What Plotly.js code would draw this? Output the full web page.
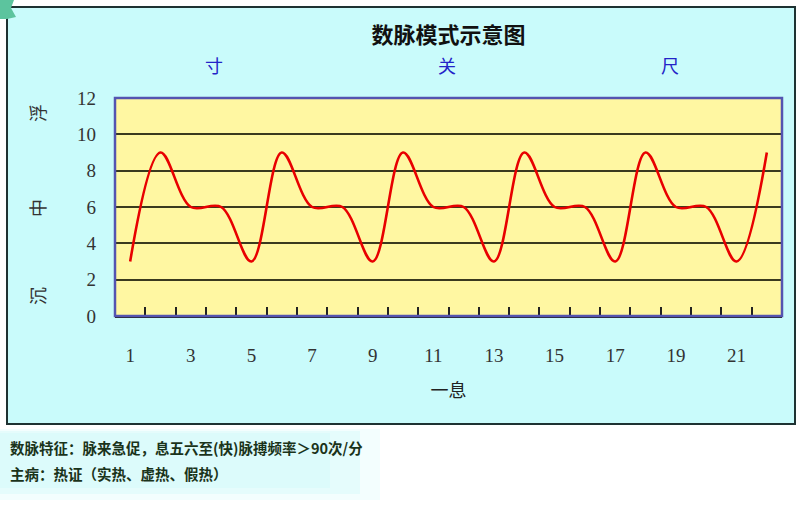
<!DOCTYPE html>
<html>
<head>
<meta charset="utf-8">
<script src="https://cdn.plot.ly/plotly-3.0.1.min.js"></script>
<style>html,body{margin:0;padding:0;background:#fff;}#chart{width:798px;height:529px;}</style>
</head>
<body>
<div id="chart"></div>
<script>
// ---- data ----
const pulseIndex = [1,2,3,4,5,6,7,8,9,10,11,12,13,14,15,16,17,18,19,20,21,22];
const pulseValues = [3,9,6,6,3,9,6,6,3,9,6,6,3,9,6,6,3,9,6,6,3,9];
const xTickLabels = ['1','3','5','7','9','11','13','15','17','19','21'];
const yTickValues = [0,2,4,6,8,10,12];
const chartTitle = '数脉模式示意图';
const positionLabels = ['寸','关','尺'];
const depthLabels = ['浮','中','沉'];
const xAxisTitle = '一息';
const noteLines = ['数脉特征：脉来急促，息五六至(快)脉搏频率＞90次/分', '主病：热证（实热、虚热、假热）'];

// ---- layout helpers (pixel -> paper) ----
const W = 798, H = 529;
const PL = 115, PR = 782, PT = 98, PB = 316;
const px = x => (x - PL) / (PR - PL);
const py = y => (PB - y) / (PB - PT);

const serif = 'Liberation Serif, Times New Roman, serif';
const cjk = 'Noto Sans CJK SC, sans-serif';

const trace = {
  x: pulseIndex, y: pulseValues, type: 'scatter', mode: 'lines',
  line: {color: '#e80000', width: 2.6, shape: 'spline', smoothing: 1},
  hoverinfo: 'x+y', showlegend: false
};

const oddTicks = pulseIndex.filter(v => xTickLabels.includes(String(v)));

const annotations = [];
const posX = [214, 447, 670];
positionLabels.forEach((t, i) => annotations.push({
  text: t, xref: 'paper', yref: 'paper', x: px(posX[i]), y: py(65),
  showarrow: false, font: {family: cjk, size: 18, color: '#2323c8'}, xanchor: 'center', yanchor: 'middle'
}));
const depY = [113, 208, 296];
depthLabels.forEach((t, i) => annotations.push({
  text: t, xref: 'paper', yref: 'paper', x: px(37), y: py(depY[i]), textangle: -90,
  showarrow: false, font: {family: cjk, size: 18, color: '#333'}, xanchor: 'center', yanchor: 'middle'
}));
const noteY = [447, 473];
noteLines.forEach((t, i) => annotations.push({
  text: '<b>' + t + '</b>', xref: 'paper', yref: 'paper', x: px(8), y: py(noteY[i]),
  showarrow: false, font: {family: cjk, size: 14.5, color: '#1a331a'}, xanchor: 'left', yanchor: 'middle'
}));

const shapes = [
  // outer cyan panel
  {type: 'rect', xref: 'paper', yref: 'paper', x0: px(7), x1: px(795), y0: py(424), y1: py(7),
   fillcolor: '#c9fbfb', line: {color: '#1e3232', width: 2}, layer: 'below'},
  // plot area fill
  {type: 'rect', xref: 'paper', yref: 'paper', x0: 0, x1: 1, y0: 0, y1: 1,
   fillcolor: '#fff7a2', line: {width: 0}, layer: 'below'},
  // soft glow behind notes
  {type: 'rect', xref: 'paper', yref: 'paper', x0: px(0), x1: px(380), y0: py(500), y1: py(429),
   fillcolor: 'rgba(200,250,250,0.22)', line: {width: 0}, layer: 'below'},
  {type: 'rect', xref: 'paper', yref: 'paper', x0: px(0), x1: px(360), y0: py(494), y1: py(431),
   fillcolor: 'rgba(200,250,250,0.3)', line: {width: 0}, layer: 'below'},
  {type: 'rect', xref: 'paper', yref: 'paper', x0: px(0), x1: px(330), y0: py(488), y1: py(433),
   fillcolor: 'rgba(200,250,250,0.3)', line: {width: 0}, layer: 'below'},
  // green corner tag
  {type: 'path', xref: 'paper', yref: 'paper', layer: 'above',
   path: `M${px(0)},${py(0)} L${px(14)},${py(0)} L${px(11)},${py(8)} L${px(16)},${py(17)} L${px(7)},${py(19)} L${px(0)},${py(19)} Z`,
   fillcolor: '#5cc49e', line: {width: 0}},
  // plot border (blue)
  {type: 'rect', xref: 'paper', yref: 'paper', x0: 0, x1: 1, y0: 0, y1: 1,
   fillcolor: 'rgba(0,0,0,0)', line: {color: '#5454b0', width: 2.5}, layer: 'above'}
];

const layout = {
  width: W, height: H,
  margin: {l: PL, r: W - PR, t: PT, b: H - PB, pad: 0},
  paper_bgcolor: '#ffffff', plot_bgcolor: 'rgba(0,0,0,0)',
  title: {text: '<b>' + chartTitle + '</b>', font: {family: cjk, size: 22, color: '#111'},
          xref: 'paper', x: 0.5, xanchor: 'center', yref: 'container', y: 1 - 35 / H, yanchor: 'middle'},
  xaxis: {
    range: [0.5, 22.5], tickmode: 'array', tickvals: oddTicks, ticktext: xTickLabels,
    ticks: '', showgrid: false, zeroline: false, showline: true, linecolor: '#222', linewidth: 2,
    tickfont: {family: serif, size: 19, color: '#333'}, ticklabelstandoff: 21,
    title: {text: xAxisTitle, font: {family: cjk, size: 18, color: '#222'}, standoff: 20},
    fixedrange: true
  },
  xaxis2: {
    overlaying: 'x', matches: 'x', anchor: 'y', side: 'bottom',
    tickmode: 'linear', tick0: 0.5, dtick: 1, ticks: 'inside', ticklen: 9, tickwidth: 2, tickcolor: '#222',
    showticklabels: false, showgrid: false, zeroline: false, showline: false
  },
  yaxis: {
    range: [0, 12], tickmode: 'array', tickvals: yTickValues, ticks: '',
    showgrid: true, gridcolor: '#3a3a1e', gridwidth: 2.2, zeroline: false, showline: false,
    tickfont: {family: serif, size: 19, color: '#333'}, ticklabelstandoff: 18,
    fixedrange: true
  },
  shapes: shapes,
  annotations: annotations,
  showlegend: false
};

const tickTrace = {x: [], y: [], xaxis: 'x2', yaxis: 'y', type: 'scatter', showlegend: false, hoverinfo: 'skip'};

Plotly.newPlot('chart', [trace, tickTrace], layout, {displayModeBar: false, staticPlot: true});
</script>
</body>
</html>
